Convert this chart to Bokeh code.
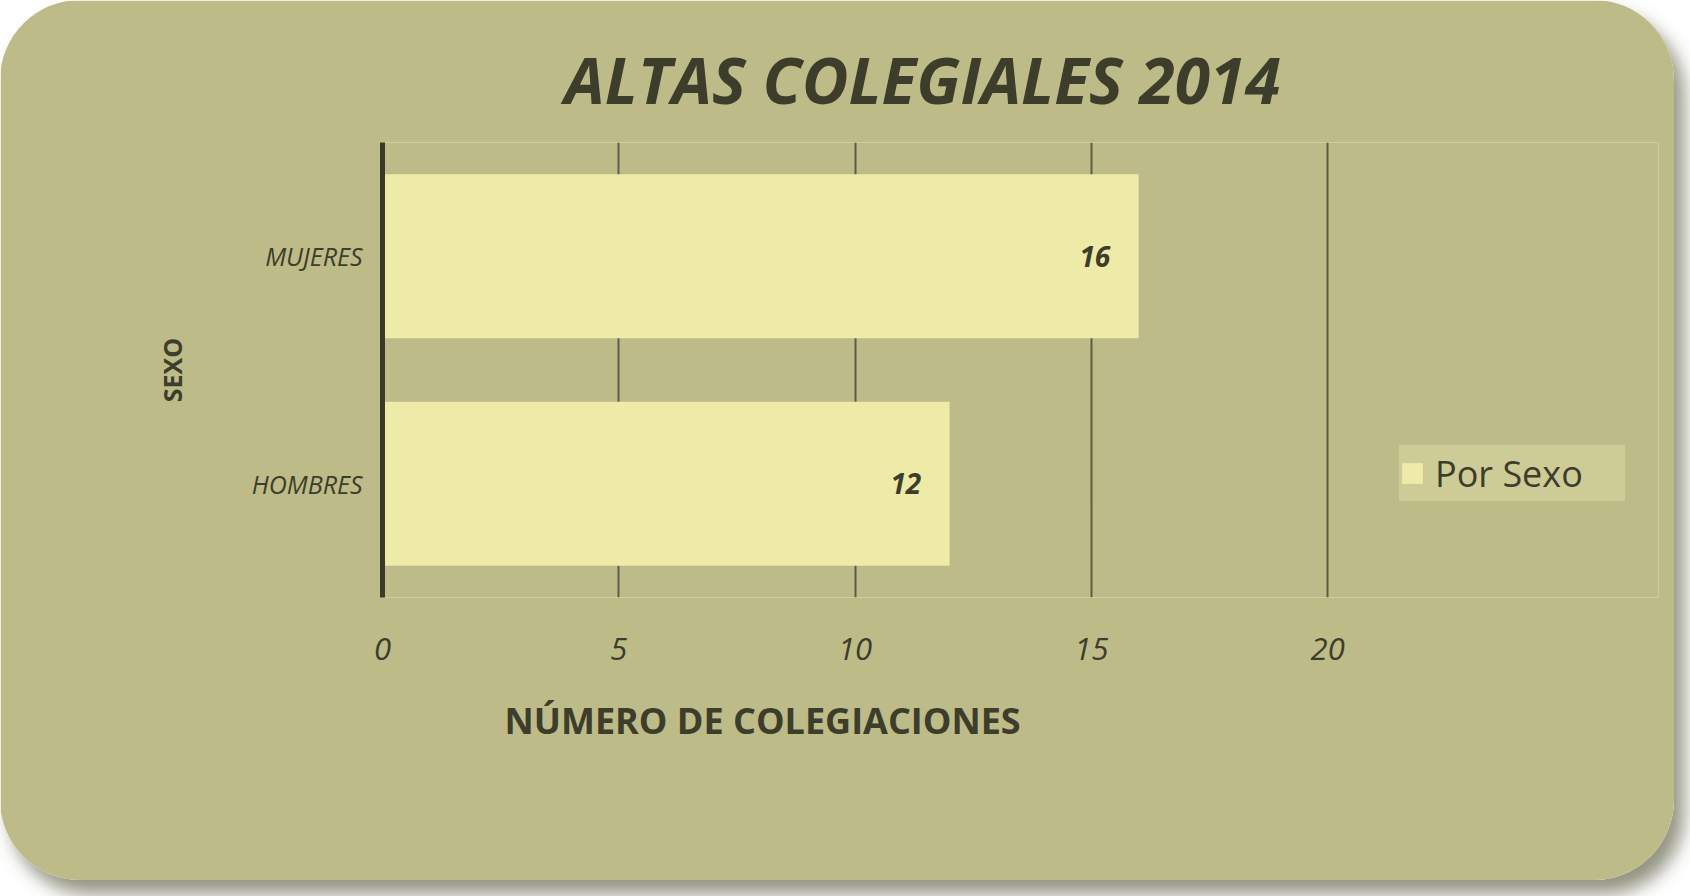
from bokeh.plotting import figure
from bokeh.models import ColumnDataSource, FixedTicker, Title
from bokeh.core.properties import value
from bokeh.embed import file_html
from bokeh.resources import INLINE

# ---- data ----
categories = ["HOMBRES", "MUJERES"]
values = [12, 16]
value_labels = ["12", "16"]
x_ticks = [0, 5, 10, 15, 20]
x_title = "NÚMERO DE COLEGIACIONES"
y_title = "SEXO"
chart_title = "ALTAS COLEGIALES 2014"
series_name = "Por Sexo"

CARD = "#bdbb87"
BAR = "#eeeaa8"
TEXT = "#3d3d2c"
GRID = "#5e5d48"
FONT = "Open Sans"

src = ColumnDataSource(dict(cat=categories, val=values, lab=value_labels,
                            lx=[v - 0.6 for v in values]))

# frame extends to the right to host the legend; axis ticks stop at 20
p = figure(width=1674, height=880, y_range=categories, x_range=(0, 27.0),
           output_backend="svg", toolbar_location=None,
           min_border_left=382, min_border_right=16,
           min_border_top=142, min_border_bottom=283)

p.background_fill_color = CARD
p.border_fill_color = CARD
p.outline_line_color = None

p.title.text = chart_title
p.title.text_font = FONT
p.title.text_font_size = "64px"
p.title.text_font_style = "bold italic"
p.title.text_color = TEXT
p.title.standoff = 40
p.title.align = "left"
p.title.offset = 182

p.hbar(y="cat", right="val", left=0, height=0.72, source=src,
       fill_color=BAR, line_color=None, legend_label=series_name)
p.text(x="lx", y="cat", text="lab", source=src, text_align="right",
       text_baseline="middle", text_font_size="28px", text_font_style="bold italic",
       text_color=TEXT, text_font=value(FONT))

# grid
p.ygrid.grid_line_color = None
p.xgrid.grid_line_color = GRID
p.xgrid.grid_line_width = 2
p.xaxis.ticker = FixedTicker(ticks=x_ticks)

# x axis
p.xaxis.axis_line_color = None
p.xaxis.major_tick_line_color = None
p.xaxis.minor_tick_line_color = None
p.xaxis.major_label_text_font = FONT
p.xaxis.major_label_text_font_size = "31px"
p.xaxis.major_label_text_color = TEXT
p.xaxis.major_label_text_font_style = "italic"
p.xaxis.major_label_standoff = 34

xt = Title(text=x_title, text_font=FONT, text_font_size="36px",
           text_font_style="bold", text_color=TEXT, align="left",
           offset=122, standoff=62)
p.add_layout(xt, "below")

# y axis
p.yaxis.axis_line_color = "#3a3a28"
p.yaxis.axis_line_width = 5
p.yaxis.major_tick_line_color = None
p.yaxis.minor_tick_line_color = None
p.yaxis.major_label_text_font = FONT
p.yaxis.major_label_text_font_size = "25px"
p.yaxis.major_label_text_font_style = "italic"
p.yaxis.major_label_text_color = TEXT
p.yaxis.major_label_standoff = 14
p.yaxis.axis_label = y_title
p.yaxis.axis_label_text_font = FONT
p.yaxis.axis_label_text_font_size = "25px"
p.yaxis.axis_label_text_font_style = "bold"
p.yaxis.axis_label_text_color = TEXT
p.yaxis.axis_label_standoff = 60

# legend
lg = p.legend[0]
lg.location = (1017, 96)
lg.background_fill_color = "#cecc96"
lg.background_fill_alpha = 1
lg.border_line_color = None
lg.label_text_font = FONT
lg.label_text_font_size = "36px"
lg.label_text_color = TEXT
lg.label_height = 56
lg.label_width = 190
lg.glyph_width = 26
lg.glyph_height = 26
lg.padding = 22
lg.margin = 0
lg.label_standoff = 10

p.styles = {"border-radius": "80px", "overflow": "hidden",
            "box-shadow": "10px 14px 18px rgba(60,60,30,0.55)"}

html = file_html(p, INLINE)
html = html.replace("<body>", '<body style="background:#d8d4a2">', 1)
open("out.html", "w").write(html)
